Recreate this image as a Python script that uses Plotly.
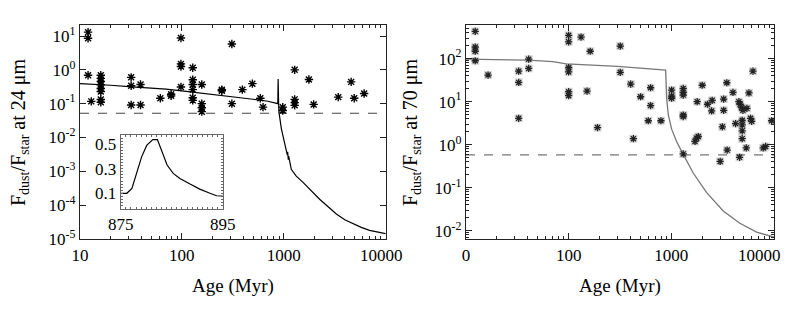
import plotly.graph_objects as go

# ---------------- data ----------------
# Left panel: 24 micron
L_age = [12.0, 12.0, 12.0, 12.9,
         16, 16, 16, 16, 16, 16, 16, 16,
         31.8, 31.8, 31.8,
         39.3, 39.3,
         61.5,
         78.5, 78.5,
         98, 98, 98, 98,
         128, 128, 128, 128, 128, 128,
         157, 157, 157, 157,
         247, 247,
         310, 310,
         393, 493, 590, 627,
         980, 980,
         1283, 1283, 1283, 1283,
         1770, 1970, 3435, 4600, 4930, 6170]
L_val = [13, 8.6, 0.69, 0.117,
         0.69, 0.56, 0.45, 0.36, 0.28, 0.23, 0.133, 0.11,
         0.6, 0.34, 0.091,
         0.37, 0.091,
         0.144,
         0.19, 0.17,
         8.7, 1.5, 1.25, 0.31,
         1.15, 0.51, 0.37, 0.26, 0.15, 0.125,
         0.37, 0.1, 0.076, 0.058,
         0.26, 0.24,
         5.8, 0.1,
         0.26, 0.39, 0.144, 0.079,
         0.079, 0.063,
         1.0, 0.134, 0.107, 0.089,
         0.52, 0.095, 0.156, 0.44, 0.144, 0.2]

L_model_age = [10, 15, 20, 30, 50, 70, 100, 150, 200, 300, 500, 700, 870,
               875, 876.2, 877.2, 878.1, 879.1, 880.1, 881.3, 882.2, 883.0, 884.1,
               885.3, 886.6, 888.6, 890.5, 892.5, 893.8, 895,
               900, 950, 1023, 1060, 1087, 1095, 1110, 1120, 1188,
               1330, 1550, 1800, 2255, 2716, 3290, 3980, 4790, 5780, 6970, 9770, 10000]
L_model_val = [0.39, 0.37, 0.35, 0.32, 0.29, 0.27, 0.24, 0.21, 0.19, 0.165, 0.135, 0.118, 0.105,
               0.1, 0.1, 0.14, 0.262, 0.397, 0.49, 0.538, 0.538, 0.45, 0.33,
               0.262, 0.221, 0.175, 0.134, 0.1, 0.08, 0.078,
               0.055, 0.018, 0.0074, 0.0045, 0.003, 0.0038, 0.0022, 0.0028, 0.00115,
               7.2e-4, 4.7e-4, 2.95e-4, 1.5e-4, 9.1e-5, 5.5e-5, 3.7e-5, 2.8e-5, 2.2e-5,
               1.8e-5, 1.47e-5, 1.45e-5]
L_limit = 0.052

# Inset: zoom of the spike
I_age = [875, 876.2, 877.2, 878.1, 879.1, 880.1, 881.3, 882.2, 883.0, 884.1,
         885.3, 886.6, 888.6, 890.5, 892.5, 893.8, 895]
I_val = [0.1, 0.1, 0.14, 0.262, 0.397, 0.49, 0.538, 0.538, 0.45, 0.33,
         0.262, 0.221, 0.175, 0.134, 0.1, 0.08, 0.078]

# Right panel: 70 micron
R_age = [12.3, 12.3, 12.3, 12.3, 16.4, 32.6, 32.6, 32.6, 40.8, 40.8,
         100, 100, 100, 100, 100, 100, 132, 151, 162, 191, 318, 318,
         402, 427, 502, 596, 628, 628, 792, 1007, 1007, 1007,
         1306, 1306, 1306, 1306, 1306, 1306, 1700, 1760, 1830, 1785,
         2000, 2250, 2470, 2500, 2990, 3140, 3235, 3235, 3470, 3500,
         3985, 4225, 4550, 4620, 4680, 4830, 4900, 4900, 4900, 4900,
         4980, 5370, 5450, 5700, 5910, 6060, 6240, 7850, 8290, 9480]
R_val = [430, 186, 148, 89, 41.5, 51, 28, 4.1, 97, 59,
         347, 245, 62, 49, 17, 13.8, 316, 17.6, 148, 2.5, 195, 48,
         25.6, 1.38, 13, 3.6, 21, 8.1, 3.6, 18.6, 13.5, 12.0,
         20.3, 16.4, 14.2, 4.9, 4.5, 0.61, 1.19, 1.42, 1.55, 10,
         24, 8.7, 6.1, 10.7, 0.41, 2.6, 11.5, 6.3, 27.5, 0.75,
         16.4, 3.1, 10, 0.51, 8.7, 7.3, 3.7, 2.9, 2.1, 1.38,
         6.3, 0.84, 7, 15.9, 4.1, 3.5, 51, 0.84, 0.91, 3.6]

R_model_age = [10, 40, 70, 95, 300, 600, 880, 900, 935, 1007, 1125, 1260, 1306,
               1634, 2200, 3200, 4650, 6760, 9120, 10000]
R_model_val = [97, 92, 85, 75, 66, 59, 54, 12, 4.9, 2.3, 1.19, 0.7, 0.59,
               0.22, 0.078, 0.029, 0.015, 0.0093, 0.0076, 0.0071]
R_limit = 0.58

X_ticks = [10, 100, 1000, 10000]
L_xticktext = ["10", "100", "1000", "10000" + "\u00a0" * 2]
R_xticktext = ["0", "100", "1000", "10000" + "\u00a0" * 7]
L_yticks = [1e-5, 1e-4, 1e-3, 1e-2, 1e-1, 1, 10]
L_ytext = ["10<sup>-5</sup>", "10<sup>-4</sup>", "10<sup>-3</sup>", "10<sup>-2</sup>",
           "10<sup>-1</sup>", "10<sup>0</sup>", "10<sup>1</sup>"]
R_yticks = [1e-2, 1e-1, 1, 10, 100]
R_ytext = ["10<sup>-2</sup>", "10<sup>-1</sup>", "10<sup>0</sup>", "10<sup>1</sup>", "10<sup>2</sup>"]
I_xticks = [875, 895]
I_yticks = [0.1, 0.3, 0.5]

# ---------------- figure ----------------
FONT = "Liberation Serif"
W, H = 789, 312
OFF = 8  # page body margin of the browser
# target plot-area pixels in the screenshot
LX0, LX1, RX0, RX1, Y0, Y1 = 80, 386, 466, 774, 25, 239
ml = LX0 - OFF
mt = Y0 - OFF
mr = W - (RX1 - OFF)
mb = H - (Y1 - OFF)
pw = W - ml - mr
ph = H - mt - mb

def px2x(p):
    return (p - OFF - ml) / pw

def px2y(p):
    return (H - mb - (p - OFF)) / ph

minor_x = [m * 10 ** e for e in range(1, 4) for m in range(2, 10)]
minor_yR = [m * 10 ** e for e in range(-3, 3) for m in range(2, 10)]

fig = go.Figure()

# left
fig.add_trace(go.Scatter(x=L_model_age, y=L_model_val, mode="lines",
                         line=dict(color="black", width=1.2), xaxis="x", yaxis="y"))
fig.add_trace(go.Scatter(x=[10, 10000], y=[L_limit, L_limit], mode="lines",
                         line=dict(color="#444", width=1.2, dash="dash"), xaxis="x", yaxis="y"))
fig.add_trace(go.Scatter(x=L_age, y=L_val, mode="markers",
                         marker=dict(symbol="asterisk-open", size=7, color="black", line=dict(width=1.4)),
                         xaxis="x", yaxis="y"))
# right
fig.add_trace(go.Scatter(x=R_model_age, y=R_model_val, mode="lines",
                         line=dict(color="#777", width=1.3), xaxis="x2", yaxis="y2"))
fig.add_trace(go.Scatter(x=[10, 10000], y=[R_limit, R_limit], mode="lines",
                         line=dict(color="#777", width=1.3, dash="dash"), xaxis="x2", yaxis="y2"))
fig.add_trace(go.Scatter(x=R_age, y=R_val, mode="markers",
                         marker=dict(symbol="square", size=8, color="rgba(140,140,140,0.35)", line=dict(width=0)),
                         xaxis="x2", yaxis="y2"))
fig.add_trace(go.Scatter(x=R_age, y=R_val, mode="markers",
                         marker=dict(symbol="asterisk-open", size=6, color="#222", line=dict(width=1.3)),
                         xaxis="x2", yaxis="y2"))
# inset
fig.add_trace(go.Scatter(x=I_age, y=I_val, mode="lines",
                         line=dict(color="black", width=1.2), xaxis="x3", yaxis="y3"))

tickfont = dict(family=FONT, size=17, color="black")
common = dict(showgrid=False, zeroline=False, showline=True, linecolor="#222", linewidth=1.2,
              mirror="allticks", ticks="inside", tickcolor="#222", tickfont=tickfont, automargin=False)

fig.update_layout(
    width=W, height=H, margin=dict(l=ml, r=mr, t=mt, b=mb, autoexpand=False),
    paper_bgcolor="white", plot_bgcolor="white", showlegend=False,
    font=dict(family=FONT, color="black", size=17),
    xaxis=dict(domain=[px2x(LX0), px2x(LX1)], type="log", range=[1, 4.005], anchor="y",
               tickmode="array", tickvals=X_ticks, ticktext=L_xticktext, ticklen=6,
               ticklabeloverflow="allow",
               minor=dict(tickmode="array", tickvals=minor_x, ticks="inside", ticklen=3, tickcolor="#222"),
               title=dict(text="Age (Myr)", font=dict(family=FONT, size=19), standoff=15), **common),
    yaxis=dict(domain=[0, 1], type="log", range=[-5, 1.325], anchor="x",
               tickmode="array", tickvals=L_yticks, ticktext=L_ytext, ticklen=6, **common),
    xaxis2=dict(domain=[px2x(RX0), px2x(RX1)], type="log", range=[1, 4.0], anchor="y2",
                tickmode="array", tickvals=X_ticks, ticktext=R_xticktext, ticklen=6,
                ticklabeloverflow="allow",
                minor=dict(tickmode="array", tickvals=minor_x, ticks="inside", ticklen=3, tickcolor="#222"),
                title=dict(text="Age (Myr)", font=dict(family=FONT, size=19), standoff=15), **common),
    yaxis2=dict(domain=[0, 1], type="log", range=[-2.19, 2.78], anchor="x2",
                tickmode="array", tickvals=R_yticks, ticktext=R_ytext, ticklen=6,
                minor=dict(tickmode="array", tickvals=minor_yR, ticks="inside", ticklen=3, tickcolor="#222"),
                **common),
    xaxis3=dict(domain=[px2x(120.7), px2x(222.7)], range=[875, 895], anchor="y3",
                tickmode="array", tickvals=I_xticks, ticklen=2, automargin=False,
                minor=dict(dtick=1, ticks="inside", ticklen=2, tickcolor="#666"),
                showgrid=False, zeroline=False, showline=True, linecolor="#666", linewidth=1,
                mirror="allticks", ticks="inside", tickcolor="#666", tickfont=tickfont),
    yaxis3=dict(domain=[px2y(209), px2y(135)], range=[-0.028, 0.575], anchor="x3",
                tickmode="array", tickvals=I_yticks, ticklen=2, automargin=False,
                minor=dict(dtick=0.025, ticks="inside", ticklen=2, tickcolor="#666"),
                showgrid=False, zeroline=False, showline=True, linecolor="#666", linewidth=1,
                mirror="allticks", ticks="inside", tickcolor="#666", tickfont=tickfont),
    annotations=[
        dict(text="F<sub>dust</sub>/F<sub>star</sub> at 24 \u03bcm", xref="paper", yref="paper",
             x=px2x(LX0), y=0.5, xshift=-61, textangle=-90, showarrow=False, xanchor="center", yanchor="middle",
             font=dict(family=FONT, size=20, color="black")),
        dict(text="F<sub>dust</sub>/F<sub>star</sub> at 70 \u03bcm", xref="paper", yref="paper",
             x=px2x(RX0), y=0.5, xshift=-55, textangle=-90, showarrow=False, xanchor="center", yanchor="middle",
             font=dict(family=FONT, size=20, color="black")),
    ],
)

fig.write_html("out.html")
